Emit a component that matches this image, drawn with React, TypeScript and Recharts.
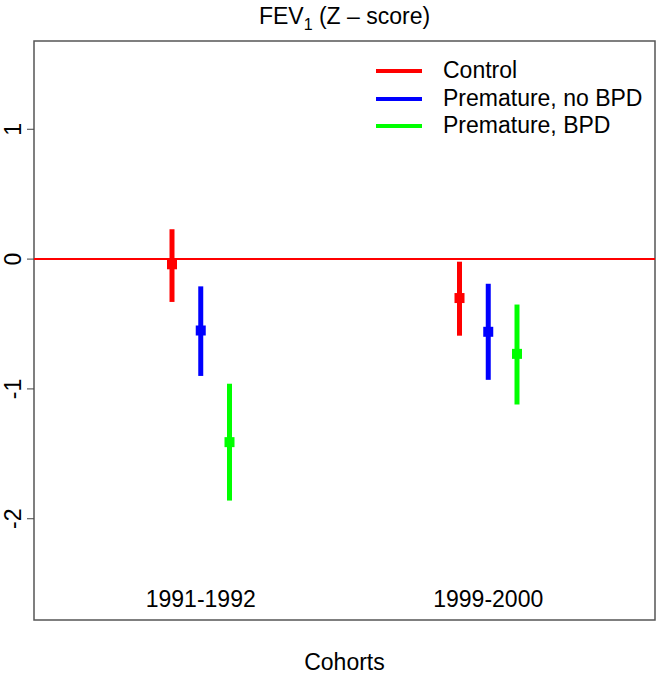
import { ComposedChart, Scatter, ErrorBar, XAxis, YAxis, ReferenceLine, ReferenceArea } from "recharts"

const cohorts = ["1991-1992", "1999-2000"]
const groups = ["Control", "Premature, no BPD", "Premature, BPD"]
const colors = ["#FF0000", "#0000FF", "#00FF00"]
const groupOffsets = [-0.1, 0, 0.1]

const controlMean = [-0.04, -0.3]
const controlLow = [-0.33, -0.59]
const controlHigh = [0.23, -0.02]

const noBpdMean = [-0.55, -0.56]
const noBpdLow = [-0.9, -0.93]
const noBpdHigh = [-0.21, -0.19]

const bpdMean = [-1.41, -0.73]
const bpdLow = [-1.86, -1.12]
const bpdHigh = [-0.96, -0.35]

const yTicks = [-2, -1, 0, 1]
const xDomain = [0.42, 2.58]
const yDomain = [-2.78, 1.68]

const FONT = '"Liberation Sans", Arial, sans-serif'
const FS = 23

function toPoints(g: number, mean: number[], low: number[], high: number[]) {
  return cohorts.map((c, i) => ({
    cohort: c,
    x: i + 1 + groupOffsets[g],
    y: mean[i],
    err: [mean[i] - low[i], high[i] - mean[i]],
  }))
}

const series = [
  toPoints(0, controlMean, controlLow, controlHigh),
  toPoints(1, noBpdMean, noBpdLow, noBpdHigh),
  toPoints(2, bpdMean, bpdLow, bpdHigh),
]

function YTick({ y, payload }: any) {
  return (
    <text
      x={21}
      y={y}
      transform={`rotate(-90, 21, ${y})`}
      textAnchor="middle"
      fontSize={FS}
      fontFamily={FONT}
      fill="#000"
    >
      {payload.value}
    </text>
  )
}

function CohortTick({ x, y, payload }: any) {
  return (
    <text x={x} y={y} dy={-21} textAnchor="middle" fontSize={FS} fontFamily={FONT} fill="#000">
      {cohorts[payload.value - 1]}
    </text>
  )
}

function Square({ cx, cy, fill }: any) {
  return <rect x={cx - 5} y={cy - 5} width={10} height={10} fill={fill} />
}

const textStyle = { fontFamily: FONT, fontSize: FS, color: "#000" }

export default function App() {
  return (
    <div style={{ position: "absolute", left: 0, top: 0, width: 656, height: 675, background: "#fff" }}>
      <div style={{ ...textStyle, position: "absolute", left: 34, width: 621, top: 3, textAlign: "center" }}>
        FEV<sub style={{ fontSize: 16 }}>1</sub> (Z – score)
      </div>
      <ComposedChart width={656} height={675} margin={{ top: 41, right: 1, bottom: 25, left: 0 }}>
        <XAxis
          type="number"
          dataKey="x"
          domain={xDomain}
          ticks={[1, 2]}
          allowDataOverflow
          tickLine={false}
          axisLine={false}
          height={30}
          interval={0}
          tick={CohortTick}
        />
        <YAxis
          type="number"
          domain={yDomain}
          ticks={yTicks}
          allowDataOverflow
          width={34}
          tickSize={7}
          tickLine={{ stroke: "#444" }}
          axisLine={false}
          interval={0}
          tick={YTick}
        />
        <ReferenceArea
          x1={xDomain[0]}
          x2={xDomain[1]}
          y1={yDomain[0]}
          y2={yDomain[1]}
          fill="none"
          stroke="#555"
          strokeWidth={1.5}
          ifOverflow="visible"
        />
        <ReferenceLine y={0} stroke="#FF0000" strokeWidth={2} />
        {series.map((data, g) => (
          <Scatter
            key={groups[g]}
            name={groups[g]}
            data={data}
            dataKey="y"
            fill={colors[g]}
            shape={Square}
            isAnimationActive={false}
          >
            <ErrorBar dataKey="err" direction="y" width={0} stroke={colors[g]} strokeWidth={5} />
          </Scatter>
        ))}
      </ComposedChart>
      <div style={{ ...textStyle, position: "absolute", left: 376, top: 57, lineHeight: "27.7px" }}>
        {groups.map((g, i) => (
          <div key={g} style={{ display: "flex", alignItems: "center", height: 27.7 }}>
            <span style={{ display: "inline-block", width: 46, height: 4, background: colors[i], marginRight: 21 }} />
            <span>{g}</span>
          </div>
        ))}
      </div>
      <div style={{ ...textStyle, position: "absolute", left: 34, width: 621, top: 649, textAlign: "center" }}>
        Cohorts
      </div>
    </div>
  )
}
